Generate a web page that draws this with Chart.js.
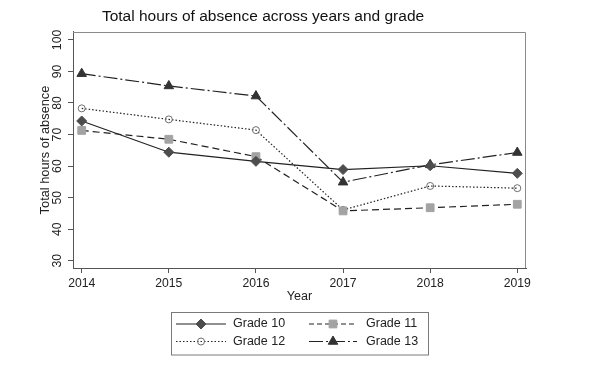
<!DOCTYPE html>
<html><head><meta charset="utf-8">
<script src="https://cdn.jsdelivr.net/npm/chart.js@4.4.0/dist/chart.umd.min.js"></script>
<style>html,body{margin:0;padding:0;background:#fff;}#wrap{width:602px;height:367px;}</style>
</head><body><div id="wrap"><canvas id="c" width="602" height="367"></canvas></div>
<script>
const years = [2014, 2015, 2016, 2017, 2018, 2019];
const grade10 = [74.3, 64.4, 61.5, 58.9, 60.1, 57.7];
const grade11 = [71.3, 68.5, 63.0, 45.8, 46.8, 47.9];
const grade12 = [78.3, 74.8, 71.4, 46.1, 53.7, 53.0];
const grade13 = [89.3, 85.4, 82.2, 54.9, 60.4, 64.3];
const yTicks = [30, 40, 50, 60, 70, 80, 90, 100];
const seriesNames = ['Grade 10', 'Grade 11', 'Grade 12', 'Grade 13'];
const titleText = 'Total hours of absence across years and grade';
const xTitle = 'Year';
const yTitle = 'Total hours of absence';

const FONT = '"Liberation Sans", Arial, Helvetica, sans-serif';
const TXT = '#222';

function pts(vals) { return years.map((y, i) => ({x: y, y: vals[i]})); }

const styles = [
  {borderDash: [], pointStyle: 'rectRot', pointRadius: 5, pointBackgroundColor: '#4d4d4d', pointBorderColor: '#4d4d4d', legendDash: []},
  {borderDash: [7, 4], pointStyle: 'rect', pointRadius: 5.5, pointBackgroundColor: '#a3a3a3', pointBorderColor: '#a3a3a3', legendDash: [5, 3]},
  {borderDash: [1.5, 2], pointStyle: 'circle', pointRadius: 3.5, pointBackgroundColor: 'rgba(0,0,0,0)', pointBorderColor: '#6e6e6e', legendDash: [1.5, 2]},
  {borderDash: [14, 3, 2, 3], pointStyle: 'triangle', pointRadius: 5.5, pointBackgroundColor: '#333', pointBorderColor: '#333', legendDash: [14, 3, 2, 3]}
];
const allSeries = [grade10, grade11, grade12, grade13];

const datasets = allSeries.map((vals, i) => Object.assign({
  label: seriesNames[i],
  data: pts(vals),
  borderColor: '#222',
  borderWidth: 1.2,
  pointBorderWidth: 1,
  pointHoverRadius: 5,
  tension: 0,
  fill: false
}, styles[i]));

const boxPlugin = {
  id: 'boxPlugin',
  afterDraw(chart) {
    const {ctx, chartArea: a, scales} = chart;
    ctx.save();
    // plot region outline (top and right)
    ctx.strokeStyle = '#8a8a8a';
    ctx.lineWidth = 1;
    ctx.beginPath();
    ctx.moveTo(a.left, a.top + 0.5);
    ctx.lineTo(a.right - 0.5, a.top + 0.5);
    ctx.lineTo(a.right - 0.5, a.bottom);
    ctx.stroke();
    // rotated y tick labels
    ctx.fillStyle = TXT;
    ctx.font = '12.3px ' + FONT;
    ctx.textAlign = 'center';
    ctx.textBaseline = 'middle';
    const ys = scales.y;
    yTicks.forEach(v => {
      const py = ys.getPixelForValue(v);
      ctx.save();
      ctx.translate(a.left - 15, py);
      ctx.rotate(-Math.PI / 2);
      ctx.fillText(String(v), 0, 0);
      ctx.restore();
    });
    // legend
    const cx = (a.left + a.right) / 2;
    const lx = cx - 128.5, ly = a.bottom + 43.5, lw = 257, lh = 42.5;
    ctx.strokeStyle = '#7a7a7a';
    ctx.strokeRect(Math.round(lx) + 0.5, Math.round(ly) + 0.5, lw, lh);
    const cols = [{l0: cx - 123.5, l1: cx - 73.5, tx: cx - 66.5}, {l0: cx + 9.5, l1: cx + 57.5, tx: cx + 66.5}];
    const rows = [ly + 12.5, ly + 30];
    ctx.font = '12.5px ' + FONT;
    ctx.textAlign = 'left';
    datasets.forEach((ds, i) => {
      const c = cols[i % 2], ry = rows[Math.floor(i / 2)];
      ctx.save();
      ctx.strokeStyle = ds.borderColor;
      ctx.lineWidth = ds.borderWidth;
      ctx.setLineDash(ds.legendDash);
      ctx.beginPath();
      ctx.moveTo(c.l0, ry);
      ctx.lineTo(c.l1, ry);
      ctx.stroke();
      ctx.restore();
      const mx = (c.l0 + c.l1) / 2;
      ctx.save();
      ctx.fillStyle = ds.pointBackgroundColor;
      ctx.strokeStyle = ds.pointBorderColor;
      ctx.lineWidth = 1;
      ctx.setLineDash([]);
      Chart.helpers.drawPoint(ctx, {pointStyle: ds.pointStyle, radius: ds.pointRadius, rotation: 0, borderWidth: 1}, mx, ry);
      ctx.restore();
      ctx.fillStyle = TXT;
      ctx.textBaseline = 'middle';
      ctx.fillText(ds.label, c.tx, ry);
    });
    ctx.restore();
  }
};

new Chart(document.getElementById('c'), {
  type: 'line',
  data: {datasets},
  options: {
    responsive: false,
    devicePixelRatio: 1,
    animation: false,
    layout: {padding: {left: 0, right: 76, top: 0, bottom: 59}},
    plugins: {
      legend: {display: false},
      tooltip: {enabled: false},
      title: {
        display: true,
        text: titleText,
        color: '#111',
        font: {family: FONT, size: 15.5, weight: 'normal', lineHeight: 1.2},
        padding: {top: 7.3, bottom: 6.1}
      }
    },
    scales: {
      x: {
        type: 'linear',
        min: 2013.9,
        max: 2019.1,
        afterBuildTicks: s => { s.ticks = years.map(v => ({value: v})); },
        afterFit: s => { s.height = 40; },
        ticks: {
          color: TXT, autoSkip: false, maxRotation: 0, minRotation: 0, padding: 3,
          font: {family: FONT, size: 12.2},
          callback: v => String(v)
        },
        grid: {display: true, drawOnChartArea: false, drawTicks: true, tickLength: 5, tickColor: '#555'},
        border: {display: true, color: '#555', width: 1},
        title: {display: true, text: xTitle, color: TXT, font: {family: FONT, size: 12.5, lineHeight: 1.2}, padding: {top: 0, bottom: 4}}
      },
      y: {
        type: 'linear',
        min: 27.7,
        max: 102.5,
        afterBuildTicks: s => { s.ticks = yTicks.map(v => ({value: v})); },
        afterFit: s => { s.width = 73; },
        ticks: {display: false},
        grid: {display: true, drawOnChartArea: false, drawTicks: true, tickLength: 5, tickColor: '#555'},
        border: {display: true, color: '#555', width: 1},
        title: {display: true, text: yTitle, color: TXT, font: {family: FONT, size: 12.8, lineHeight: 1.2}, padding: {top: 37.3, bottom: 0}}
      }
    }
  },
  plugins: [boxPlugin]
});
</script>
</body></html>
